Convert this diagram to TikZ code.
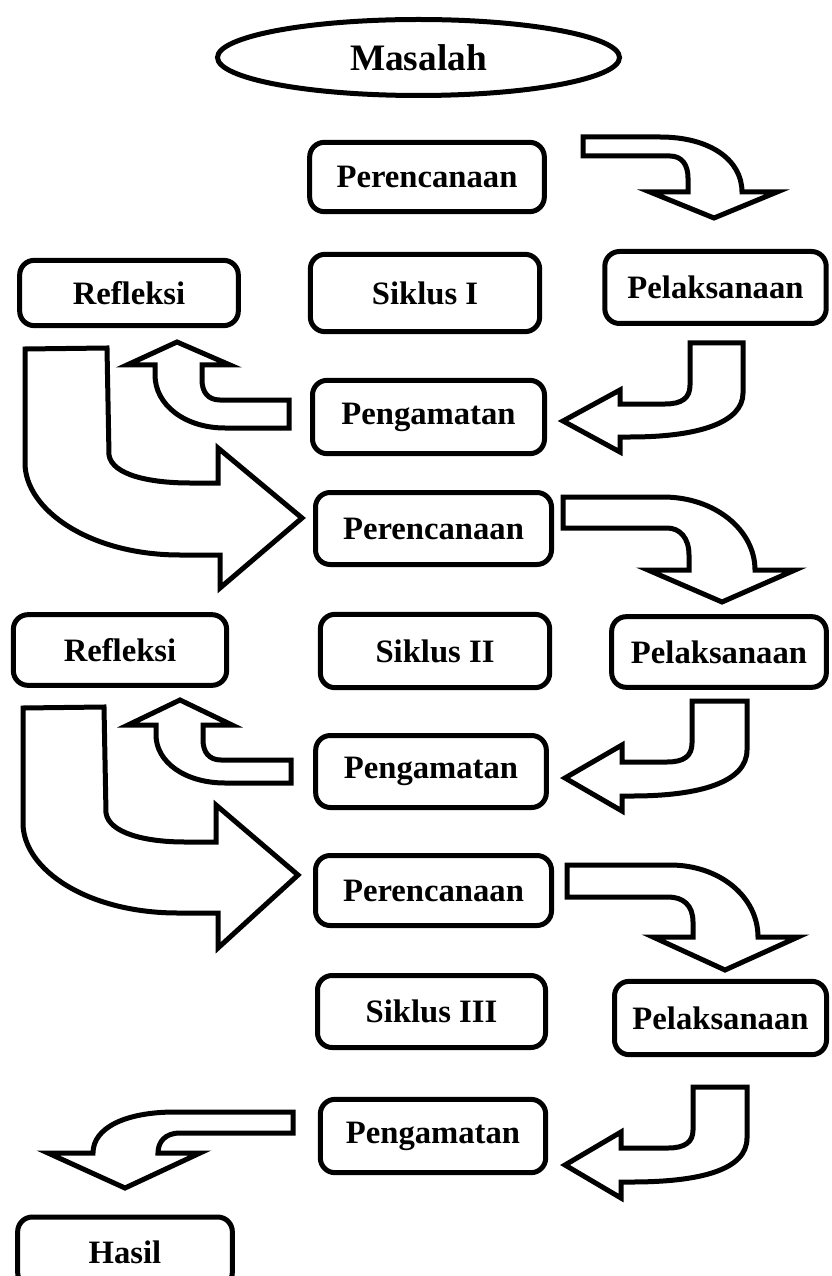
\documentclass[tikz,border=0pt]{standalone}
\usepackage{fontspec}
\setmainfont{Liberation Serif}
\usepackage{tikz}
\usetikzlibrary{shapes.geometric}

\begin{document}
\begin{tikzpicture}[
  x=0.75pt, y=-0.75pt,
  stagebox/.style={rectangle, rounded corners=11pt, draw=black, line width=3.75pt, fill=white,
                   inner sep=0pt, align=center, font=\fontsize{24.5}{29}\selectfont\bfseries},
  startnode/.style={ellipse, draw=black, line width=3.75pt, fill=white, inner sep=0pt,
                    font=\fontsize{28}{33}\selectfont\bfseries},
  blockarrow/.style={draw=black, fill=white, line width=3.75pt, line join=miter, miter limit=20},
]
\useasboundingbox (0,0) rectangle (831,1276);

\node[startnode, minimum width=301.5pt, minimum height=57pt] (masalah) at (418.5,57.5) {Masalah};

\node[stagebox, minimum width=176pt, minimum height=52pt] (ren1)  at (427,177)   {Perencanaan};
\node[stagebox, minimum width=172pt, minimum height=58pt] (sik1)  at (425,293)   {Siklus I};
\node[stagebox, minimum width=164pt, minimum height=49pt] (ref1)  at (129,293)   {Refleksi};
\node[stagebox, minimum width=166pt, minimum height=54pt] (pel1)  at (715.5,287.5) {Pelaksanaan};
\node[stagebox, minimum width=174pt, minimum height=55pt] (amat1) at (428.5,417) {Pengamatan};

\node[stagebox, minimum width=177pt, minimum height=54pt] (ren2)  at (433.5,528.5) {Perencanaan};
\node[stagebox, minimum width=160pt, minimum height=53pt] (ref2)  at (120,650)   {Refleksi};
\node[stagebox, minimum width=172pt, minimum height=55pt] (sik2)  at (435,651)   {Siklus II};
\node[stagebox, minimum width=161pt, minimum height=53pt] (pel2)  at (719,652)   {Pelaksanaan};
\node[stagebox, minimum width=173pt, minimum height=54pt] (amat2) at (431,771.5) {Pengamatan};

\node[stagebox, minimum width=177pt, minimum height=52.5pt] (ren3) at (433.5,890.5) {Perencanaan};
\node[stagebox, minimum width=171pt, minimum height=54pt] (sik3)  at (431.5,1011.5) {Siklus III};
\node[stagebox, minimum width=159pt, minimum height=55pt] (pel3)  at (720.5,1018) {Pelaksanaan};
\node[stagebox, minimum width=169pt, minimum height=55pt] (amat3) at (433,1136)  {Pengamatan};
\node[stagebox, minimum width=161pt, minimum height=52.5pt] (hasil) at (125,1252) {Hasil};

% siklus I
\draw[blockarrow] (583,137) -- (660,137) .. controls (710,137) and (742,160) .. (742,192)
  -- (777,192) -- (714,218) -- (650,192) -- (688,192) -- (688,178)
  .. controls (688,165) and (682,156) .. (670,156) -- (583,156) -- cycle;
\draw[blockarrow] (690,343) -- (743,343) -- (743,393) .. controls (743,422) and (700,437) .. (630,437)
  -- (620,437) -- (620,452) -- (563,421) -- (620,390) -- (620,404) -- (665,404)
  .. controls (682,404) and (690,398) .. (690,385) -- cycle;
\draw[blockarrow] (289,400) -- (289,428) -- (225,428) .. controls (185,428) and (155,405) .. (155,375)
  -- (155,365) -- (127,365) -- (177,342) -- (230,365) -- (202,365) -- (202,380)
  .. controls (202,392) and (208,400) .. (220,400) -- cycle;
\draw[blockarrow] (25,349) -- (107,348) -- (109,455) .. controls (112,475) and (150,483) .. (190,483)
  -- (218,483) -- (218,448) -- (302,518) -- (220,588) -- (220,555) -- (180,555)
  .. controls (90,555) and (25,510) .. (25,463) -- cycle;

% siklus II
\draw[blockarrow] (563,497) -- (663,497) .. controls (715,497) and (755,530) .. (755,570)
  -- (795,570) -- (722,602) -- (648,570) -- (689,570) -- (689,555)
  .. controls (689,538) and (680,528) .. (667,528) -- (563,528) -- cycle;
\draw[blockarrow] (692,701) -- (747,701) -- (747,750) .. controls (747,782) and (700,796) .. (632,796)
  -- (622,796) -- (622,811) -- (565,778) -- (622,745) -- (622,762) -- (667,762)
  .. controls (684,762) and (692,756) .. (692,743) -- cycle;
\draw[blockarrow] (291,760) -- (291,783) -- (225,783) .. controls (185,783) and (156,762) .. (156,735)
  -- (156,725) -- (128,725) -- (180,700) -- (232,725) -- (203,725) -- (203,740)
  .. controls (203,752) and (209,760) .. (221,760) -- cycle;
\draw[blockarrow] (23,708) -- (104,707) -- (106,813) .. controls (109,833) and (145,842) .. (185,842)
  -- (216,842) -- (216,805) -- (298,875) -- (218,948) -- (218,913) -- (178,913)
  .. controls (88,913) and (23,870) .. (23,823) -- cycle;

% siklus III
\draw[blockarrow] (567,865) -- (670,865) .. controls (720,865) and (758,897) .. (758,937)
  -- (798,937) -- (725,970) -- (653,937) -- (693,937) -- (693,922)
  .. controls (693,905) and (683,897) .. (668,897) -- (567,897) -- cycle;
\draw[blockarrow] (693,1087) -- (747,1087) -- (747,1138) .. controls (747,1170) and (700,1182) .. (631,1182)
  -- (621,1182) -- (621,1198) -- (565,1165) -- (621,1132) -- (621,1148) -- (668,1148)
  .. controls (685,1148) and (693,1142) .. (693,1130) -- cycle;
\draw[blockarrow] (293,1112) -- (293,1133) -- (180,1133) .. controls (165,1133) and (158,1142) .. (158,1153)
  -- (200,1153) -- (125,1188) -- (48,1153) -- (93,1153)
  .. controls (93,1128) and (125,1112) .. (175,1112) -- cycle;

\end{tikzpicture}
\end{document}
